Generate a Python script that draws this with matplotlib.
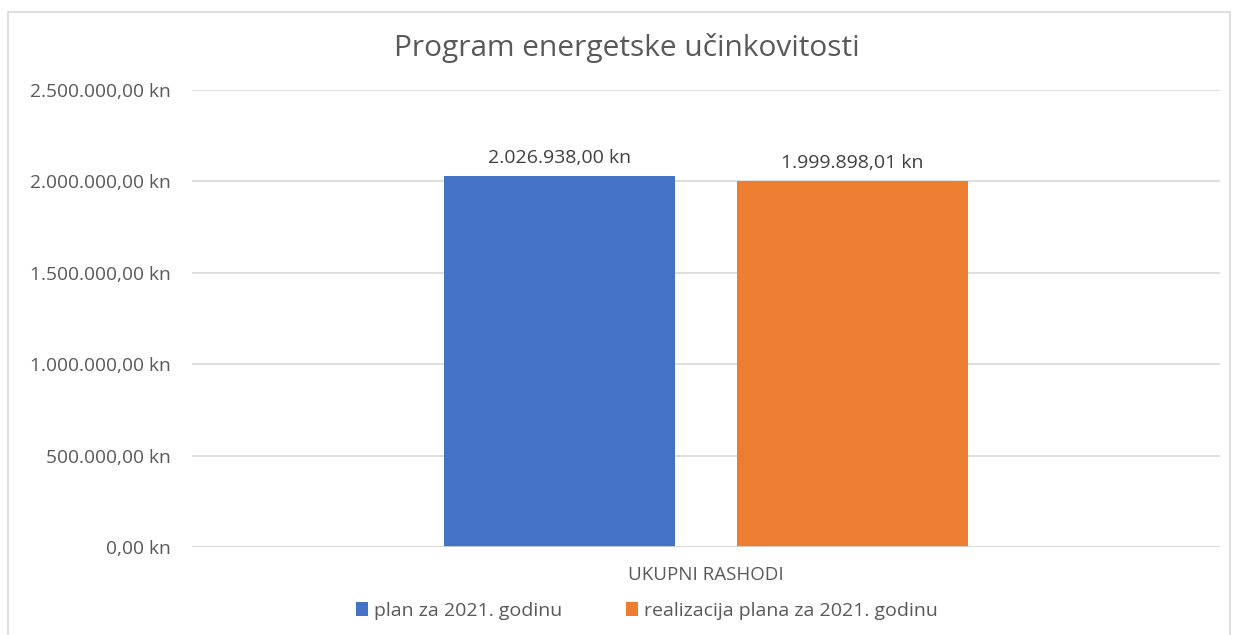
import matplotlib
matplotlib.use("Agg")
import matplotlib.pyplot as plt
from matplotlib.patches import Rectangle

plt.rcParams['font.family'] = ['Open Sans', 'DejaVu Sans']

title = "Program energetske učinkovitosti"
category = ["UKUPNI RASHODI"]
series_names = ["plan za 2021. godinu", "realizacija plana za 2021. godinu"]
values_plan = [2026938.00]
values_real = [1999898.01]
labels_plan = ["2.026.938,00 kn"]
labels_real = ["1.999.898,01 kn"]
yticks = [0, 500000, 1000000, 1500000, 2000000, 2500000]
ytick_labels = ["0,00 kn", "500.000,00 kn", "1.000.000,00 kn", "1.500.000,00 kn",
                "2.000.000,00 kn", "2.500.000,00 kn"]

colors = ["#4472C4", "#ED7D31"]
txt = "#595959"

fig = plt.figure(figsize=(12.34, 6.35), dpi=100)
fig.patch.set_facecolor("white")
# outer border
fig.add_artist(Rectangle((8/1234, -0.01), (1230-8)/1234, 1 - 12/635 + 0.01,
                         transform=fig.transFigure, fill=False,
                         edgecolor="#D9D9D9", linewidth=1.2))

ax = fig.add_axes([192/1234, 1-547/635, (1220-192)/1234, (547-90)/635])
bw = 0.225
off = 0.1425
x = [0]
b1 = ax.bar([xi - off for xi in x], values_plan, width=bw, color=colors[0], label=series_names[0], zorder=3)
b2 = ax.bar([xi + off for xi in x], values_real, width=bw, color=colors[1], label=series_names[1], zorder=3)
ax.bar_label(b1, labels=labels_plan, padding=7, fontsize=14, color="#404040")
ax.bar_label(b2, labels=labels_real, padding=7, fontsize=14, color="#404040")

ax.set_xlim(-0.5, 0.5)
ax.set_ylim(0, 2500000)
ax.set_yticks(yticks)
ax.set_yticklabels(ytick_labels, fontsize=13.8, color=txt)
ax.set_xticks(x)
ax.set_xticklabels(category, fontsize=13.5, color=txt)
ax.tick_params(axis='y', length=0, pad=15)
ax.tick_params(axis='x', length=0, pad=14)
ax.yaxis.grid(True, color="#D9D9D9", linewidth=1.2, zorder=0)
for s in ax.spines.values():
    s.set_visible(False)
ax.axhline(0, color="#D9D9D9", linewidth=1.2, zorder=4)

fig.text(627/1234, 1-48/635, title, ha="center", va="center", fontsize=21.5, color=txt)

fig.legend(handles=[b1, b2], labels=series_names, loc="center", bbox_to_anchor=(647/1234, 1-611/635),
           ncol=2, frameon=False, fontsize=14, labelcolor=txt, handlelength=0.6, handleheight=0.7,
           handletextpad=0.3, columnspacing=3.3)

fig.savefig("out.png", dpi=100, facecolor="white")
